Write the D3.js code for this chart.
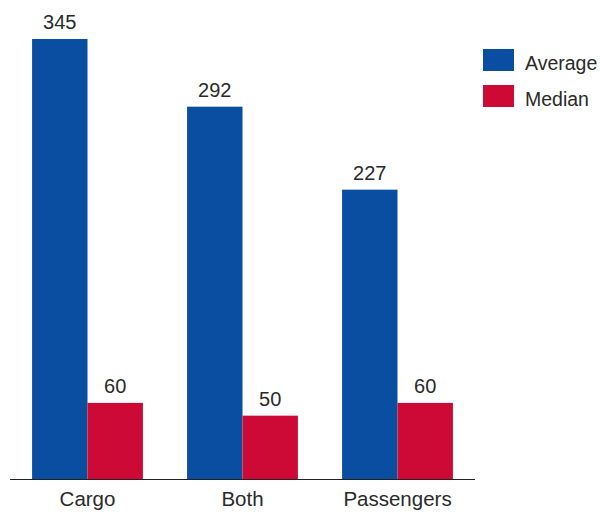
<!DOCTYPE html>
<html><head><meta charset="utf-8">
<script src="https://cdn.jsdelivr.net/npm/d3@7"></script>
<style>body{margin:0;background:#fff;} text{font-family:"Liberation Sans",Arial,sans-serif;fill:#2a2a2a;}</style>
</head><body>
<svg id="c" width="600" height="518"></svg>
<script>
const categories = ["Cargo", "Both", "Passengers"];
const seriesNames = ["Average", "Median"];
const average = [345, 292, 227];
const median = [60, 50, 60];
const colors = ["#0a4ea2", "#cc0a35"];

const svg = d3.select("#c");
const baseY = 479.5;
const y = d3.scaleLinear().domain([0, 345]).range([baseY, 39]);
const x = d3.scaleBand().domain(categories).range([10, 475]).paddingInner(0.285).paddingOuter(0.1425);
const xs = d3.scaleBand().domain(seriesNames).range([0, x.bandwidth()]);

const data = categories.map((c, i) => ({cat: c, vals: [average[i], median[i]]}));
const g = svg.selectAll("g.grp").data(data).join("g").attr("class", "grp")
  .attr("transform", d => `translate(${x(d.cat)},0)`);
g.selectAll("rect").data(d => d.vals.map((v, j) => ({s: seriesNames[j], v, j})))
  .join("rect")
  .attr("x", d => xs(d.s)).attr("width", xs.bandwidth())
  .attr("y", d => y(d.v)).attr("height", d => baseY - y(d.v))
  .attr("fill", d => colors[d.j]);
g.selectAll("text.val").data(d => d.vals.map((v, j) => ({s: seriesNames[j], v, j})))
  .join("text").attr("class", "val")
  .attr("x", d => xs(d.s) + xs.bandwidth() / 2).attr("y", d => y(d.v) - 10)
  .attr("text-anchor", "middle").attr("font-size", 20).text(d => d.v);

const axis = svg.append("g").attr("transform", `translate(0,${baseY})`)
  .call(d3.axisBottom(x).tickSize(0).tickPadding(12));
axis.select(".domain").attr("stroke", "#222").attr("stroke-width", 1.2).attr("d", "M10,0H475");
axis.selectAll("text").attr("font-size", 20.5).attr("fill", "#2a2a2a").style("font-family", '"Liberation Sans",Arial,sans-serif');

const leg = svg.append("g").selectAll("g").data(seriesNames).join("g")
  .attr("transform", (d, i) => `translate(483,${49 + i * 36})`);
leg.append("rect").attr("width", 31).attr("height", 22).attr("fill", (d, i) => colors[i]);
leg.append("text").attr("x", 42).attr("y", 21).attr("font-size", 19.5).text(d => d);
</script>
</body></html>
